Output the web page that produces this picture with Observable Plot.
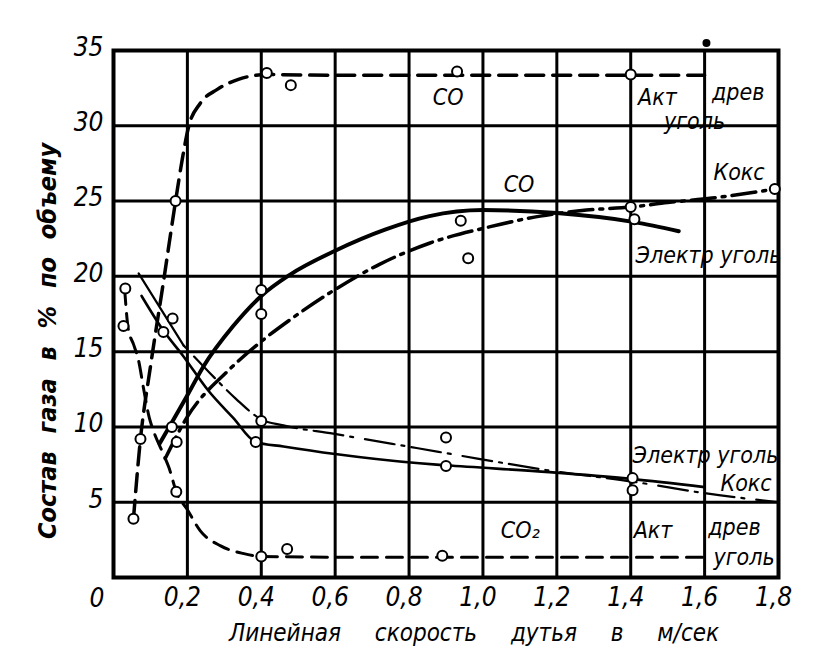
<!DOCTYPE html>
<html><head><meta charset="utf-8">
<script src="https://cdn.jsdelivr.net/npm/d3@7"></script>
<script src="https://cdn.jsdelivr.net/npm/@observablehq/plot@0.6"></script>
<style>
html,body{margin:0;padding:0;background:#fff;overflow:hidden}
</style></head><body><div id="chart"></div>
<script>
// ---- data ----
const xTicks = [0.2, 0.4, 0.6, 0.8, 1.0, 1.2, 1.4, 1.6, 1.8];
const yTicks = [5, 10, 15, 20, 25, 30, 35];

// CO, активированный древесный уголь (thick dashed)
const coAkt = [[0.054,3.9],[0.073,9.2],[0.1,14.0],[0.135,19.6],[0.168,25.0],[0.187,27.9],[0.203,29.9],[0.235,31.5],[0.28,32.4],[0.34,33.1],[0.415,33.4],[0.6,33.35],[1.0,33.35],[1.6,33.35]];
// CO2, активированный древесный уголь (dashed)
const co2Akt = [[0.03,19.2],[0.04,16.5],[0.054,15.5],[0.068,14.4],[0.081,12.6],[0.097,10.6],[0.108,9.75],[0.135,8.2],[0.15,7.3],[0.17,5.7],[0.2,4.5],[0.235,3.1],[0.29,2.1],[0.35,1.6],[0.4,1.4],[0.6,1.35],[1.0,1.35],[1.6,1.35]];
// CO, кокс (dash-dot thick)
const coKoks = [[0.14,7.9],[0.198,10.6],[0.311,13.75],[0.396,15.6],[0.477,17.1],[0.585,18.9],[0.72,20.8],[0.855,22.2],[1.02,23.3],[1.155,24.0],[1.28,24.4],[1.4,24.6],[1.5,24.9],[1.62,25.2],[1.79,25.8]];
// CO, электродный уголь (thick solid)
const coElektr = [[0.125,8.9],[0.2,12.1],[0.243,14.0],[0.324,16.7],[0.4,18.7],[0.477,20.1],[0.6,21.7],[0.735,23.1],[0.855,24.0],[1.0,24.4],[1.2,24.2],[1.41,23.6],[1.53,23.0]];
// CO2, кокс (thin; solid start, then dash-dot)
const co2Koks = [[0.068,20.2],[0.19,15.4],[0.26,13.6],[0.33,11.9],[0.4,10.5],[0.46,10.1],[0.595,9.55],[0.82,8.6],[0.985,7.9],[1.18,7.1],[1.41,6.35],[1.6,5.6],[1.8,5.0]];
// CO2, электродный уголь (thin solid)
const co2Elektr = [[0.076,18.7],[0.135,16.4],[0.189,14.7],[0.257,12.4],[0.324,10.6],[0.385,9.0],[0.46,8.7],[0.6,8.2],[0.82,7.6],[0.9,7.45],[1.18,7.0],[1.4,6.55],[1.6,6.0]];
// measured points (open circles)
const observed = [[0.054,3.9],[0.073,9.2],[0.168,25.0],[0.415,33.5],[0.48,32.7],[0.93,33.6],[1.4,33.4],
  [0.032,19.2],[0.027,16.7],[0.17,5.7],[0.4,1.4],[0.47,1.9],[0.89,1.45],
  [0.16,17.2],[0.135,16.3],[0.4,19.1],[0.4,17.5],[0.4,10.4],[0.385,9.0],[0.158,10.0],[0.171,9.0],
  [0.94,23.7],[0.96,21.2],[1.4,24.6],[1.41,23.8],[1.79,25.8],[0.9,9.3],[0.9,7.4],[1.405,6.6],[1.405,5.8]];
const specks = [[1.605,35.5]];
// curve labels
const labels = [
  {t:"CO", x:0.864, y:31.9}, {t:"Акт", x:1.42, y:31.9}, {t:"древ", x:1.62, y:32.2}, {t:"уголь", x:1.49, y:30.3},
  {t:"CO", x:1.056, y:26.1}, {t:"Кокс", x:1.624, y:26.9}, {t:"Электр уголь", x:1.413, y:21.4},
  {t:"Электр уголь", x:1.405, y:8.1}, {t:"Кокс", x:1.643, y:6.25},
  {t:"CO₂", x:1.048, y:3.1}, {t:"Акт", x:1.408, y:3.1}, {t:"древ", x:1.61, y:3.3}, {t:"уголь", x:1.624, y:1.33}
];
const xTitle = "Линейная скорость дутья в м/сек";
const yTitle = "Состав газа в % по объему";

// ---- chart ----
const FONT = '"DejaVu Sans Condensed", "DejaVu Sans", sans-serif';
const fmt = d => d.toFixed(1).replace(".", ",");
const X = d => d[0], Y = d => d[1];

const chart = Plot.plot({
  width: 814, height: 660,
  marginLeft: 113, marginRight: 36, marginTop: 50, marginBottom: 83,
  x: {domain: [0, 1.8]},
  y: {domain: [0, 35]},
  style: {fontFamily: FONT, fontStyle: "italic", background: "#fff", color: "#000"},
  marks: [
    Plot.gridX(xTicks, {stroke: "#000", strokeOpacity: 1, strokeWidth: 3}),
    Plot.gridY(yTicks, {stroke: "#000", strokeOpacity: 1, strokeWidth: 3}),
    Plot.frame({stroke: "#000", strokeWidth: 4}),
    Plot.axisX(xTicks, {tickSize: 0, tickPadding: 10, fontSize: 26, tickFormat: fmt, label: null, dx: -5}),
    Plot.axisY(yTicks, {tickSize: 0, tickPadding: 10, fontSize: 26, label: null, dy: -3}),
    Plot.text(["0"], {frameAnchor: "bottom-left", dx: -24, dy: 21, fontSize: 26, lineAnchor: "middle"}),
    Plot.text([yTitle], {frameAnchor: "left", dx: -66, dy: 27, rotate: -90, textAnchor: "middle", fontSize: 25, fontWeight: "bold", lineAnchor: "middle"}),
    Plot.text([xTitle], {frameAnchor: "bottom", dx: 28, dy: 56, textAnchor: "middle", fontSize: 24, lineAnchor: "middle"}),
    Plot.line(coAkt, {x: X, y: Y, curve: "monotone-x", stroke: "#000", strokeWidth: 3.5, strokeDasharray: "18,9"}),
    Plot.line(co2Akt, {x: X, y: Y, curve: "monotone-x", stroke: "#000", strokeWidth: 3, strokeDasharray: "16,9"}),
    Plot.line(coKoks, {x: X, y: Y, curve: "monotone-x", stroke: "#000", strokeWidth: 3.5, strokeDasharray: "24,7,3,7"}),
    Plot.line(coElektr, {x: X, y: Y, curve: "monotone-x", stroke: "#000", strokeWidth: 4}),
    Plot.line(co2Koks.slice(0, 2), {x: X, y: Y, stroke: "#000", strokeWidth: 2.2}),
    Plot.line(co2Koks.slice(1), {x: X, y: Y, curve: "monotone-x", stroke: "#000", strokeWidth: 2.2, strokeDasharray: "3,12,30,7,3,7,30,7"}),
    Plot.line(co2Elektr, {x: X, y: Y, curve: "monotone-x", stroke: "#000", strokeWidth: 2.6}),
    Plot.dot(observed, {x: X, y: Y, r: 5, fill: "#fff", stroke: "#000", strokeWidth: 2}),
    Plot.dot(specks, {x: X, y: Y, r: 4, fill: "#000", clip: false}),
    Plot.text(labels, {x: "x", y: "y", text: "t", textAnchor: "start", fontSize: 23, lineAnchor: "middle"})
  ]
});
document.getElementById("chart").appendChild(chart);
d3.select(chart).selectAll("text").filter(function(){ return this.textContent === yTitle; }).style("word-spacing", "10px");
d3.select(chart).selectAll("text").filter(function(){ return this.textContent === xTitle; }).style("word-spacing", "27px");
</script></body></html>
